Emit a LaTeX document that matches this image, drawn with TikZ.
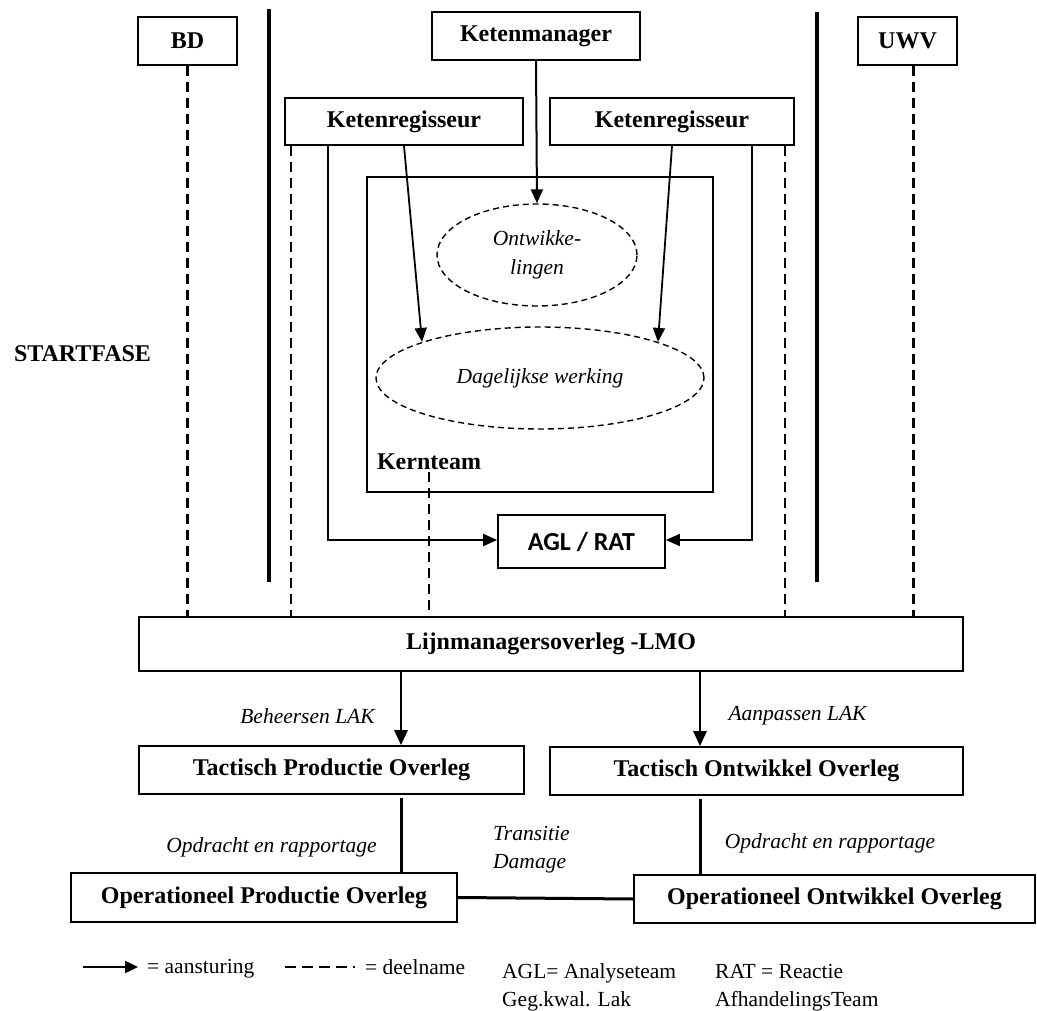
\documentclass[tikz,border=0pt]{standalone}
\usepackage{fontspec}
\setmainfont{Liberation Serif}
\newfontfamily\aglfont{Carlito}
\usetikzlibrary{arrows.meta,shapes.geometric,calc}

\begin{document}
\begin{tikzpicture}[x=1pt,y=-1pt,
  box/.style={draw,line width=1.7pt,inner sep=0pt,
    font=\fontsize{24}{28}\selectfont\bfseries},
  lbl/.style={inner sep=0pt,font=\fontsize{21.5}{30}\selectfont\itshape},
  txt/.style={inner sep=0pt,anchor=base west,font=\fontsize{21.5}{28}\selectfont},
  bold/.style={inner sep=0pt,font=\fontsize{24}{28}\selectfont\bfseries},
  part/.style={line width=2.1pt,dash pattern=on 10pt off 6pt},
  cloud/.style={ellipse,draw,line width=1.4pt,dash pattern=on 6pt off 4pt,
    inner sep=0pt,align=center,font=\fontsize{21.5}{29}\selectfont\itshape},
  steer/.style={line width=1.8pt,-{Triangle[length=14pt,width=12pt]}},
  strong/.style={line width=2.8pt,-{Triangle[length=15pt,width=13pt]}},
  heavy/.style={line width=3pt},
  divider/.style={line width=3.6pt}]

\useasboundingbox (0,0) rectangle (1037,1011);

% parties and chain roles
\node[box,minimum width=99pt,minimum height=48pt] (bd) at (187.5,41) {BD};
\node[box,minimum width=99pt,minimum height=48pt] (uwv) at (907.5,41) {UWV};
\node[box,minimum width=208pt,minimum height=48pt] (km) at (536,36) {Ketenmanager};
\node[box,minimum width=238pt,minimum height=47pt] (kregL) at (404,121.5) {Ketenregisseur};
\node[box,minimum width=244pt,minimum height=47pt] (kregR) at (672,121.5) {Ketenregisseur};

% separating walls
\draw[divider] (269,9) -- (269,582);
\draw[divider] (817,12) -- (817,582);

\node[bold,anchor=base] (start) at (82.5,362) {STARTFASE};

% core team
\node[draw,line width=2.6pt,minimum width=346pt,minimum height=315pt,inner sep=0pt] (kt) at (540,334.5) {};
\node[cloud,minimum width=200pt,minimum height=102pt] (ow) at (537,255) {Ontwikke-\\lingen};
\node[cloud,minimum width=328pt,minimum height=102pt] (dw) at (540,378) {Dagelijkse werking};
\node[bold,anchor=base] (kl) at (429,469) {Kernteam};

\node[draw,line width=1.7pt,inner sep=0pt,minimum width=167pt,minimum height=53pt,
  font=\aglfont\fontsize{26}{30}\selectfont\bfseries] (agl) at (581.5,541.5) {AGL / RAT};

% line management
\node[box,minimum width=824pt,minimum height=54pt] (lmo) at (551,644) {Lijnmanagersoverleg -LMO};
\node[box,minimum width=385pt,minimum height=48pt] (tpo) at (331.5,770) {Tactisch Productie Overleg};
\node[box,minimum width=413pt,minimum height=48pt] (too) at (756.5,771) {Tactisch Ontwikkel Overleg};
\node[box,minimum width=386pt,minimum height=49pt] (opo) at (264,897.5) {Operationeel Productie Overleg};
\node[box,minimum width=401pt,minimum height=48pt] (ooo) at (834.5,899) {Operationeel Ontwikkel Overleg};

% steering arrows
\draw[steer,line width=2pt] (km.south) -- (ow.north);
\draw[steer] (kregL.south) -- (dw.163);
\draw[steer] (kregR.south) -- (dw.17);
\draw[steer] ($(kregL.south west)+(44,0)$) |- ([yshift=1.5pt]agl.west);
\draw[steer] ($(kregR.south east)+(-43,0)$) |- ([yshift=1.5pt]agl.east);

% participation lines
\draw[part] (bd.south) -- (bd.south |- lmo.north);
\draw[part] ($(uwv.south)+(6,0)$) coordinate (u) -- (u |- lmo.north);
\draw[part] ($(kregL.south west)+(7,0)$) coordinate (l) -- (l |- lmo.north);
\draw[part] ($(kregR.south east)+(-10,0)$) coordinate (r) -- (r |- lmo.north);
\draw[part] ($(kl.south)+(0,3)$) -- (kl.south |- lmo.north);

% tactical and operational levels
\coordinate (pcol) at (401,0);
\coordinate (dcol) at (700,0);
\draw[strong] (pcol |- lmo.south) -- (pcol |- tpo.north);
\draw[strong] (dcol |- lmo.south) -- (dcol |- too.north);
\draw[heavy] ([yshift=-3pt]pcol |- tpo.south) -- (pcol |- opo.north);
\draw[heavy] ([yshift=-3pt]dcol |- too.south) -- (dcol |- ooo.north);
\draw[heavy] (opo.east) -- (ooo.west);

\node[lbl,anchor=base] (bh) at (307.5,723) {Beheersen LAK};
\node[lbl,anchor=base] (ap) at (797.5,720) {Aanpassen LAK};
\node[lbl,anchor=base] (orl) at (271.5,852) {Opdracht en rapportage};
\node[lbl,anchor=base] (orr) at (830,848) {Opdracht en rapportage};
\node[lbl,anchor=base west] (tr) at (493,840) {Transitie};
\node[lbl,anchor=base west] (dm) at (493,868) {Damage};

% legend
\coordinate (la) at (83,967);
\coordinate (lb) at (138,967);
\draw[line width=2.4pt,-{Triangle[length=13pt,width=12pt]}] (la) -- (lb);
\node[txt] (lg1) at (147,973) {= aansturing};
\coordinate (lc) at (285,967);
\coordinate (ld) at (359,967);
\draw[line width=2.4pt,dash pattern=on 11pt off 6pt on 11pt off 6pt on 11pt off 6pt on 11pt off 6pt on 2pt off 40pt] (lc) -- (ld);
\node[txt] (lg2) at (365,974) {= deelname};
\node[txt] (lg3) at (502,978) {AGL= Analyseteam};
\node[txt] (lg4) at (502,1006) {Geg.kwal. Lak};
\node[txt] (lg5) at (715,978) {RAT = Reactie};
\node[txt] (lg6) at (715,1006) {AfhandelingsTeam};

\end{tikzpicture}
\end{document}
